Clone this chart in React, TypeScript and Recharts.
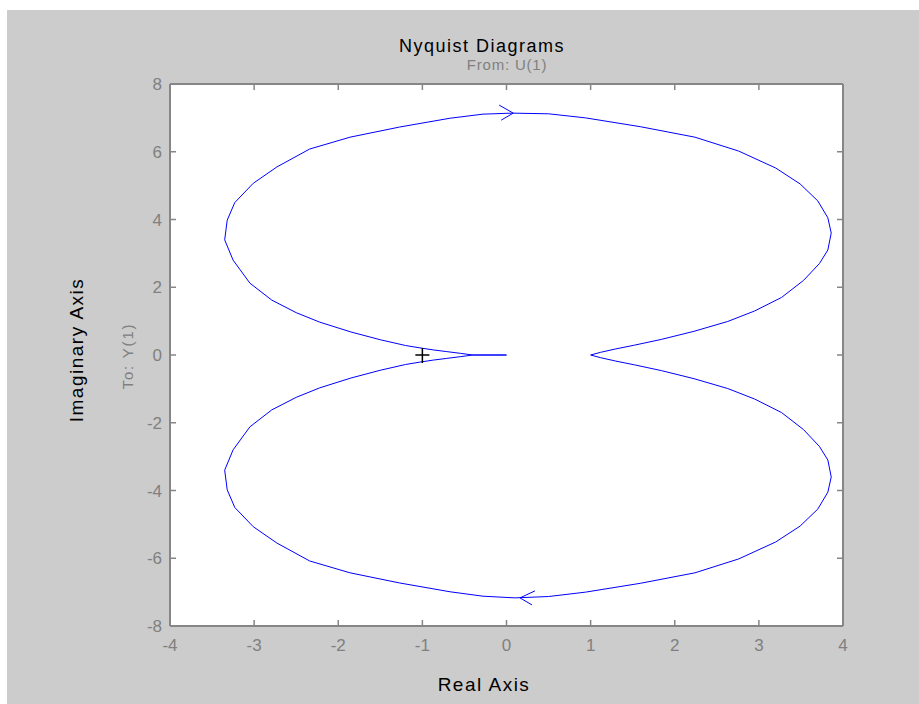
import React from "react";
import { LineChart, Line, XAxis, YAxis, ReferenceDot } from "recharts";

// Nyquist path, upper half (origin -> left loop -> top -> right loop -> (1,0))
const upperRe = [0, -0.4, -0.55, -0.71, -0.87, -1.03, -1.2, -1.5, -1.85, -2.22, -2.5, -2.79, -3.05, -3.25, -3.35, -3.32, -3.23, -3.01, -2.73, -2.34, -1.86, -1.27, -0.67, -0.28, 0.07, 0.5, 0.94, 1.59, 2.24, 2.76, 3.2, 3.49, 3.7, 3.82, 3.86, 3.82, 3.72, 3.53, 3.27, 2.95, 2.63, 2.23, 1.84, 1.52, 1.3, 1.12, 1.0];
const upperIm = [0, 0, 0.05, 0.1, 0.15, 0.21, 0.28, 0.45, 0.68, 0.97, 1.25, 1.62, 2.12, 2.8, 3.4, 3.98, 4.5, 5.07, 5.55, 6.08, 6.43, 6.73, 6.99, 7.11, 7.14, 7.12, 7.0, 6.74, 6.43, 6.02, 5.52, 5.05, 4.55, 4.05, 3.6, 3.1, 2.7, 2.2, 1.7, 1.3, 0.99, 0.7, 0.46, 0.29, 0.18, 0.08, 0];
// lower half ((1,0) -> right loop -> bottom -> left loop -> origin)
const lowerRe = [1.0, 1.12, 1.3, 1.52, 1.84, 2.23, 2.63, 2.95, 3.27, 3.53, 3.72, 3.82, 3.86, 3.82, 3.7, 3.49, 3.2, 2.76, 2.24, 1.59, 0.94, 0.5, 0.1, -0.28, -0.67, -1.27, -1.86, -2.34, -2.73, -3.01, -3.23, -3.32, -3.35, -3.25, -3.05, -2.79, -2.5, -2.22, -1.85, -1.5, -1.2, -1.03, -0.87, -0.71, -0.55, -0.4, 0];
const lowerIm = [0, -0.08, -0.18, -0.29, -0.46, -0.7, -0.99, -1.3, -1.7, -2.2, -2.7, -3.1, -3.6, -4.05, -4.55, -5.05, -5.52, -6.02, -6.43, -6.74, -7.0, -7.13, -7.17, -7.12, -6.99, -6.73, -6.43, -6.08, -5.55, -5.07, -4.5, -3.98, -3.4, -2.8, -2.12, -1.62, -1.25, -0.97, -0.68, -0.45, -0.28, -0.21, -0.15, -0.1, -0.05, 0, 0];

const xTicks = [-4, -3, -2, -1, 0, 1, 2, 3, 4];
const yTicks = [-8, -6, -4, -2, 0, 2, 4, 6, 8];

const upperArrow = { re: 0.08, im: 7.14 };
const lowerArrow = { re: 0.16, im: -7.17 };
const criticalPoint = { re: -1, im: 0 };

const pathData = [
  ...upperRe.map((re, i) => ({ re, im: upperIm[i] })),
  ...lowerRe.map((re, i) => ({ re, im: lowerIm[i] })),
];

const BLUE = "#0000ff";
const AXIS = "#868686";
const LABEL = "#808080";
const FONT = "'Liberation Sans', Arial, sans-serif";
const TICK_LEN = 6;

const ArrowRight = (p: any) => (
  <path d={`M${p.cx - 14},${p.cy - 8} L${p.cx},${p.cy} L${p.cx - 12},${p.cy + 7}`} stroke={BLUE} fill="none" strokeWidth={1} />
);
const ArrowLeft = (p: any) => (
  <path d={`M${p.cx + 15},${p.cy - 7} L${p.cx},${p.cy} L${p.cx + 12},${p.cy + 7}`} stroke={BLUE} fill="none" strokeWidth={1} />
);
const Plus = (p: any) => (
  <path d={`M${p.cx - 7},${p.cy} L${p.cx + 7},${p.cy} M${p.cx},${p.cy - 7} L${p.cx},${p.cy + 8}`} stroke="#000" fill="none" strokeWidth={1.5} />
);

// custom ticks: inward tick marks (MATLAB box style) plus labels
const BottomTick = (p: any) => (
  <g>
    <line x1={p.x} x2={p.x} y1={p.y} y2={p.y - TICK_LEN} stroke={AXIS} strokeWidth={1.5} />
    <text x={p.x} y={p.y + 25} textAnchor="middle" fill={LABEL} fontSize={17} fontFamily={FONT}>{p.payload.value}</text>
  </g>
);
const TopTick = (p: any) => (
  <line x1={p.x} x2={p.x} y1={p.y} y2={p.y + TICK_LEN} stroke={AXIS} strokeWidth={1.5} />
);
const LeftTick = (p: any) => (
  <g>
    <line x1={p.x} x2={p.x + TICK_LEN} y1={p.y} y2={p.y} stroke={AXIS} strokeWidth={1.5} />
    <text x={p.x - 8} y={p.y} dy="0.36em" textAnchor="end" fill={LABEL} fontSize={17} fontFamily={FONT}>{p.payload.value}</text>
  </g>
);
const RightTick = (p: any) => (
  <line x1={p.x} x2={p.x - TICK_LEN} y1={p.y} y2={p.y} stroke={AXIS} strokeWidth={1.5} />
);

const lineStyle = { stroke: AXIS, strokeWidth: 2 };

// plot area inside the gray container (container sits at page 7,10)
const PLOT = { left: 163, top: 74, right: 76, bottom: 78 };

export default function App() {
  return (
    <div style={{ position: "absolute", left: 7, top: 10, width: 912, height: 694, background: "#cccccc", fontFamily: FONT }}>
      <div style={{ position: "absolute", left: PLOT.left, top: PLOT.top, width: 912 - PLOT.left - PLOT.right, height: 694 - PLOT.top - PLOT.bottom, background: "#ffffff" }} />
      <div style={{ position: "absolute", left: 0, top: 0 }}>
        <LineChart width={912} height={694} data={pathData} margin={{ top: PLOT.top - 1, right: PLOT.right - 1, bottom: PLOT.bottom - 30, left: PLOT.left - 40 }}>
          <XAxis xAxisId="b" type="number" dataKey="re" domain={[-4, 4]} ticks={xTicks} height={30} tickSize={0} tickMargin={0} axisLine={lineStyle} tickLine={false} tick={BottomTick} interval={0} allowDataOverflow />
          <XAxis xAxisId="t" orientation="top" type="number" dataKey="re" domain={[-4, 4]} ticks={xTicks} height={1} tickSize={0} tickMargin={0} tick={TopTick} tickLine={false} axisLine={lineStyle} interval={0} allowDataOverflow />
          <YAxis yAxisId="l" type="number" domain={[-8, 8]} ticks={yTicks} width={40} tickSize={0} tickMargin={0} axisLine={lineStyle} tickLine={false} tick={LeftTick} interval={0} allowDataOverflow />
          <YAxis yAxisId="r" orientation="right" type="number" domain={[-8, 8]} ticks={yTicks} width={1} tickSize={0} tickMargin={0} tick={RightTick} tickLine={false} axisLine={lineStyle} interval={0} allowDataOverflow />
          <Line xAxisId="b" yAxisId="l" dataKey="im" stroke={BLUE} strokeWidth={1} dot={false} isAnimationActive={false} type="linear" />
          <ReferenceDot xAxisId="b" yAxisId="l" x={upperArrow.re} y={upperArrow.im} shape={ArrowRight} />
          <ReferenceDot xAxisId="b" yAxisId="l" x={lowerArrow.re} y={lowerArrow.im} shape={ArrowLeft} />
          <ReferenceDot xAxisId="b" yAxisId="l" x={criticalPoint.re} y={criticalPoint.im} shape={Plus} />
        </LineChart>
      </div>
      <div style={{ position: "absolute", left: 475, top: 26, transform: "translateX(-50%)", whiteSpace: "nowrap", fontSize: 18, lineHeight: "20px", letterSpacing: 1.5, color: "#000" }}>Nyquist Diagrams</div>
      <div style={{ position: "absolute", left: 500, top: 47, transform: "translateX(-50%)", whiteSpace: "nowrap", fontSize: 15, lineHeight: "16px", letterSpacing: 0.8, color: LABEL }}>From: U(1)</div>
      <div style={{ position: "absolute", left: 477, top: 664, transform: "translateX(-50%)", whiteSpace: "nowrap", fontSize: 19, lineHeight: "22px", letterSpacing: 1.5, color: "#000" }}>Real Axis</div>
      <div style={{ position: "absolute", left: 70, top: 340, transform: "translate(-50%, -50%) rotate(-90deg)", whiteSpace: "nowrap", fontSize: 19, lineHeight: "22px", letterSpacing: 1.5, color: "#000" }}>Imaginary Axis</div>
      <div style={{ position: "absolute", left: 121, top: 346, transform: "translate(-50%, -50%) rotate(-90deg)", whiteSpace: "nowrap", fontSize: 15, lineHeight: "18px", letterSpacing: 1.8, color: LABEL }}>To: Y(1)</div>
    </div>
  );
}
